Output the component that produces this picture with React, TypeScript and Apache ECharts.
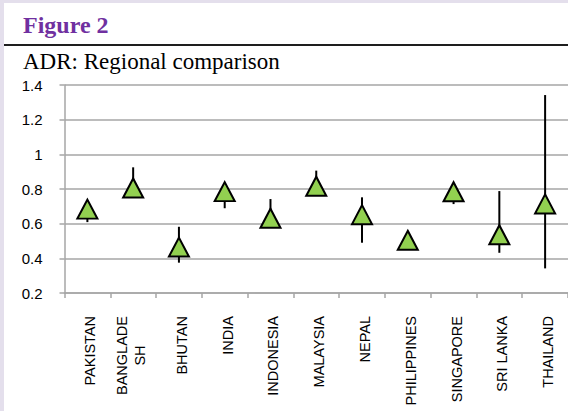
import React, { useEffect, useRef } from "react";
import * as echarts from "echarts";

const categories = [
  "PAKISTAN",
  "BANGLADE\nSH",
  "BHUTAN",
  "INDIA",
  "INDONESIA",
  "MALAYSIA",
  "NEPAL",
  "PHILIPPINES",
  "SINGAPORE",
  "SRI LANKA",
  "THAILAND",
];
const adr = [0.684, 0.806, 0.465, 0.785, 0.631, 0.816, 0.652, 0.504, 0.784, 0.536, 0.714];
const lower = [0.609, 0.77, 0.375, 0.689, 0.6, 0.79, 0.49, 0.49, 0.713, 0.432, 0.342];
const upper = [0.72, 0.925, 0.582, 0.82, 0.742, 0.906, 0.752, 0.52, 0.8, 0.788, 1.342];
const yMin = 0.2;
const yMax = 1.4;
const yStep = 0.2;

const SANS = "Liberation Sans";
const SERIF = "Liberation Serif";

export default function App() {
  const ref = useRef<HTMLDivElement>(null);
  useEffect(() => {
    document.body.style.margin = "0";
    const chart = echarts.init(ref.current!, null, { renderer: "svg" });
    const base = { fontFamily: SANS, fontSize: 14.5, color: "#000" };
    chart.setOption({
      animation: false,
      backgroundColor: "transparent",
      graphic: [
        { type: "rect", shape: { x: 4, y: 44, width: 570, height: 2 }, style: { fill: "#1e1e1e" }, silent: true },
        {
          type: "text",
          x: 23,
          y: 25,
          style: { text: "Figure 2", fill: "#7030A0", font: `bold 24px "${SERIF}"`, verticalAlign: "middle", align: "left" },
          silent: true,
        },
        {
          type: "text",
          x: 23,
          y: 61,
          style: { text: "ADR: Regional comparison", fill: "#000", font: `23px "${SERIF}"`, verticalAlign: "middle", align: "left" },
          silent: true,
        },
      ],
      grid: { left: 64.5, right: -10.4, top: 85, bottom: 118, containLabel: false },
      xAxis: {
        type: "category",
        data: categories,
        boundaryGap: true,
        axisLine: { lineStyle: { color: "#A6A6A6", width: 1.5 } },
        axisTick: { show: true, interval: 0, length: 5, lineStyle: { color: "#A6A6A6", width: 1.5 } },
        axisLabel: {
          interval: 0,
          rotate: 90,
          margin: 23,
          ...base,
          lineHeight: 22,
          formatter: (v: string) => {
            const parts = v.split("\n");
            if (parts.length === 1) return `{s|${v}}`;
            return parts.map((s, i) => (i === 0 ? `{a|${s}}` : `{b|${s}}`)).join("\n");
          },
          rich: {
            s: { ...base, lineHeight: 16, padding: [6, 0, 0, 0] },
            a: { ...base, lineHeight: 18, padding: [0, 0, 4, 0] },
            b: { ...base, lineHeight: 18, padding: [0, 0, 4, 0], align: "center" },
          },
        },
        splitLine: { show: false },
      },
      yAxis: {
        type: "value",
        min: yMin,
        max: yMax,
        interval: yStep,
        axisLine: { show: true, lineStyle: { color: "#A6A6A6", width: 1.5 } },
        axisTick: { show: true, length: 5, lineStyle: { color: "#A6A6A6", width: 1.5 } },
        axisLabel: { margin: 22, fontFamily: SANS, fontSize: 15, color: "#000" },
        splitLine: { show: true, lineStyle: { color: "#A6A6A6", width: 1.5 } },
      },
      series: [
        {
          type: "custom",
          z: 1,
          data: categories.map((_, i) => [i, lower[i], upper[i]]),
          encode: { x: 0, y: [1, 2] },
          renderItem: (params: any, api: any) => {
            const x = api.value(0);
            const lo = api.coord([x, api.value(1)]);
            const hi = api.coord([x, api.value(2)]);
            return {
              type: "line",
              shape: { x1: lo[0], y1: lo[1], x2: hi[0], y2: hi[1] },
              style: { stroke: "#000", lineWidth: 2 },
            };
          },
        },
        {
          type: "scatter",
          z: 3,
          data: adr,
          symbol: "triangle",
          symbolSize: [20, 19],
          itemStyle: { color: "#92D050", borderColor: "#000", borderWidth: 2, opacity: 1 },
        },
      ],
    });
    return () => chart.dispose();
  }, []);
  return (
    <div style={{ position: "relative", width: 568, height: 411, background: "#E4DFEC", overflow: "hidden" }}>
      <div style={{ position: "absolute", left: 4, top: 3, right: 0, bottom: 0, background: "#fff" }} />
      <div ref={ref} style={{ position: "absolute", left: 0, top: 0, width: 568, height: 411 }} />
    </div>
  );
}
